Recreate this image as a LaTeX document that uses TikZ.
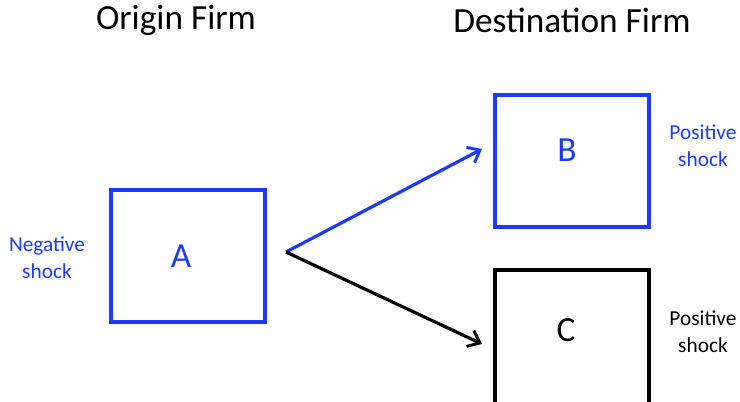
\documentclass[tikz,border=0pt]{standalone}
\usepackage{fontspec}
\setmainfont{Carlito}
\usetikzlibrary{arrows.meta}
\definecolor{myblue}{RGB}{28,58,255}
\begin{document}
\begin{tikzpicture}[x=0.75pt,y=-0.75pt,
  firm/.style={draw,line width=2.6pt,minimum width={154*0.75pt},minimum height={132*0.75pt},inner sep=0pt},
  big/.style={font=\fontsize{26.5}{31}\selectfont},
  lab/.style={font=\fontsize{16}{20.5}\selectfont,align=center},
  arr/.style={line width=2.4pt,-{Straight Barb[length=8pt,width=13pt,line width=2.2pt]}}]
\useasboundingbox (0,0) rectangle (740,401);
\clip (0,0) rectangle (740,401);
\node[big] (ho) at (176,20) {Origin Firm};
\node[big] (hd) at (572,20) {Destination Firm};
\node[firm,myblue] (A) at (188,256) {};
\node[firm,myblue] (B) at (572,161) {};
\node[firm,minimum height={150*0.75pt}] (C) at (572,345) {};
\node[big,text=myblue] (Al) at (181,256) {A};
\node[big,text=myblue] (Bl) at (567,150) {B};
\node[big] (Cl) at (566,330) {C};
\node[lab,text=myblue] (nA) at (47,258) {Negative\\shock};
\node[lab,text=myblue] (pB) at (703,146) {Positive\\shock};
\node[lab] (pC) at (703,332) {Positive\\shock};
\coordinate (s) at (286,252);
\coordinate (tB) at (482,149);
\coordinate (tC) at (482,344);
\draw[arr,myblue] (s) -- (tB);
\draw[arr] (s) -- (tC);
\end{tikzpicture}
\end{document}
